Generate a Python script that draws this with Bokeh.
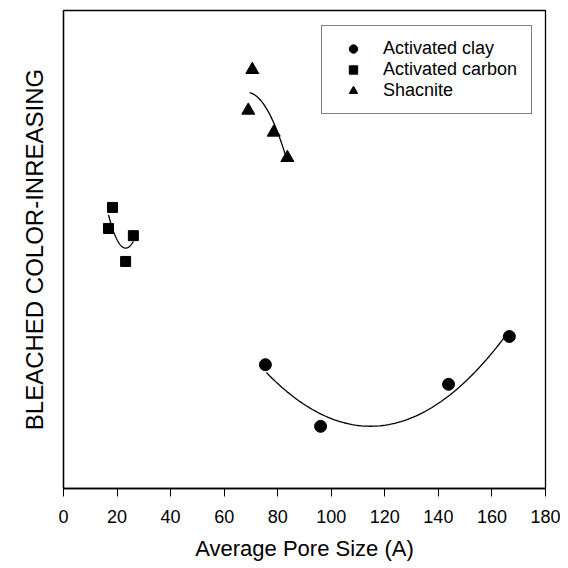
import numpy as np
from bokeh.plotting import figure
from bokeh.models import Range1d, Legend, LegendItem, FixedTicker
from bokeh.embed import file_html
from bokeh.resources import INLINE

# Data (x: average pore size in A, y: bleached color increase, arbitrary units)
clay_x = [75.4, 96.0, 143.8, 166.5]
clay_y = [25.9, 13.0, 21.8, 31.8]
carbon_x = [16.8, 18.3, 23.2, 26.1]
carbon_y = [54.4, 58.8, 47.5, 52.9]
shac_x = [69.0, 70.5, 78.5, 83.6]
shac_y = [79.1, 87.6, 74.5, 69.2]
x_ticks = [0, 20, 40, 60, 80, 100, 120, 140, 160, 180]

FONT = "Liberation Sans"

p = figure(width=560, height=566, output_backend="svg", toolbar_location=None,
           x_range=Range1d(0, 180), y_range=Range1d(0, 100),
           min_border_left=63, min_border_right=15, min_border_top=10, min_border_bottom=78)
p.frame_width = 482
p.frame_height = 478
p.grid.visible = False
p.outline_line_color = "black"
p.outline_line_width = 1.3
p.background_fill_color = "white"
p.border_fill_color = "white"

# x axis
xa = p.xaxis[0]
xa.ticker = FixedTicker(ticks=x_ticks)
xa.minor_tick_line_color = None
xa.major_tick_in = 0
xa.major_tick_out = 8
xa.major_label_standoff = 13
xa.major_label_text_font = FONT
xa.major_label_text_font_size = "18px"
xa.major_label_text_color = "black"
xa.axis_label = "Average Pore Size (A)"
xa.axis_label_text_font = FONT
xa.axis_label_text_font_size = "22px"
xa.axis_label_text_font_style = "normal"
xa.axis_label_text_color = "black"
xa.axis_label_standoff = 10
xa.axis_line_color = "black"
xa.axis_line_width = 1.3
xa.major_tick_line_color = "black"

# y axis (no ticks)
ya = p.yaxis[0]
ya.major_tick_line_color = None
ya.minor_tick_line_color = None
ya.major_label_text_font_size = "0px"
ya.major_label_text_color = None
ya.axis_label = "BLEACHED COLOR-INREASING"
ya.axis_label_text_font = FONT
ya.axis_label_text_font_size = "24px"
ya.axis_label_text_font_style = "normal"
ya.axis_label_text_color = "black"
ya.axis_label_standoff = 10
ya.axis_line_color = "black"
ya.axis_line_width = 1.3

# fitted curves
def fit_curve(xs, ys, x0, x1, deg=2):
    c = np.polyfit(xs, ys, deg)
    xx = np.linspace(x0, x1, 80)
    return xx, np.polyval(c, xx)

cx, cy = fit_curve(clay_x, clay_y, 75.8, 166.0)
p.line(cx, cy, line_color="black", line_width=1.3)
kx, ky = fit_curve(carbon_x, carbon_y, 16.8, 26.1)
p.line(kx, ky, line_color="black", line_width=1.3)
sx, sy = fit_curve(shac_x, shac_y, 69.5, 83.6)
p.line(sx, sy, line_color="black", line_width=1.3)

r1 = p.scatter(clay_x, clay_y, marker="circle", size=12, color="black")
r2 = p.scatter(carbon_x, carbon_y, marker="square", size=10, color="black")
r3 = p.scatter(shac_x, shac_y, marker="triangle", size=13, color="black")

legend = Legend(items=[LegendItem(label="Activated clay", renderers=[r1]),
                       LegendItem(label="Activated carbon", renderers=[r2]),
                       LegendItem(label="Shacnite", renderers=[r3])],
                location=(258, 374))
legend.label_text_font = FONT
legend.label_text_font_size = "18px"
legend.label_text_color = "black"
legend.border_line_color = "black"
legend.border_line_width = 1.2
legend.padding = 12
legend.spacing = 0
legend.glyph_width = 38
legend.glyph_height = 21
legend.label_height = 21
legend.label_standoff = 11
legend.label_width = 136
legend.margin = 0
legend.background_fill_alpha = 1
p.add_layout(legend)

open("out.html", "w").write(file_html(p, INLINE))
